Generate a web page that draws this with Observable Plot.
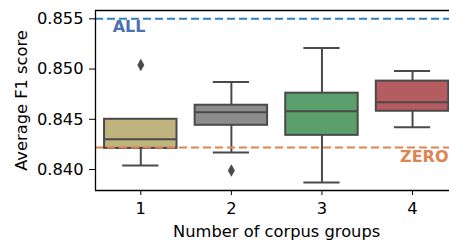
<!DOCTYPE html>
<html><head><meta charset="utf-8">
<script src="https://cdn.jsdelivr.net/npm/d3@7"></script>
<script src="https://cdn.jsdelivr.net/npm/@observablehq/plot@0.6"></script>
<style>body{margin:0;background:#fff}</style>
</head><body><div id="chart"></div>
<script>
// Box-plot statistics
const groups      = [1, 2, 3, 4];
const whiskerLow  = [0.8404, 0.8417, 0.8387, 0.8442];
const q1          = [0.8421, 0.8444, 0.8434, 0.8458];
const median      = [0.8430, 0.8457, 0.8458, 0.8467];
const q3          = [0.8450, 0.8464, 0.8476, 0.8488];
const whiskerHigh = [0.8450, 0.8487, 0.8521, 0.8498];
const boxColors   = ["#c0b47e", "#8c8c8c", "#5b9f6c", "#b55c60"];
const outlierGroup = [1, 2];
const outlierValue = [0.8504, 0.8399];
const refNames  = ["ALL", "ZERO"];
const refValues = [0.8550, 0.8422];
const refColors = ["#2f7fc1", "#dd8452"];
const refTextColors = ["#4c72b0", "#dd8452"];
const yTicks = [0.840, 0.845, 0.850, 0.855];

const boxes = groups.map((g, i) => ({g, lo: whiskerLow[i], q1: q1[i], med: median[i], q3: q3[i], hi: whiskerHigh[i], fill: boxColors[i]}));
const fliers = outlierGroup.map((g, i) => ({g, v: outlierValue[i]}));
const refs = refNames.map((n, i) => ({n, v: refValues[i], c: refColors[i], tc: refTextColors[i]}));

const edge = "#4a4a4a";
const yDom = [0.83791, 0.85583];
const xDom = [0.5, 4.408];

const thinDiamond = {
  draw(ctx, size) {
    const r = Math.sqrt(size / Math.PI);
    const h = r * 1.25, w = r * 0.7;
    ctx.moveTo(0, -h); ctx.lineTo(w, 0); ctx.lineTo(0, h); ctx.lineTo(-w, 0); ctx.closePath();
  }
};

const chart = Plot.plot({
  width: 449, height: 240,
  marginLeft: 95, marginTop: 10, marginBottom: 50, marginRight: 0,
  style: {fontFamily: "DejaVu Sans", fontSize: "16.3px", color: "#000", background: "#fff"},
  x: {domain: xDom},
  y: {domain: yDom},
  color: {type: "identity"},
  marks: [
    Plot.ruleX(boxes, {x: "g", y1: "lo", y2: "q1", stroke: edge, strokeWidth: 2}),
    Plot.ruleX(boxes, {x: "g", y1: "q3", y2: "hi", stroke: edge, strokeWidth: 2}),
    Plot.ruleY(boxes, {y: "lo", x1: d => d.g - 0.2, x2: d => d.g + 0.2, stroke: edge, strokeWidth: 2}),
    Plot.ruleY(boxes, {y: "hi", x1: d => d.g - 0.2, x2: d => d.g + 0.2, stroke: edge, strokeWidth: 2}),
    Plot.rect(boxes, {x1: d => d.g - 0.4, x2: d => d.g + 0.4, y1: "q1", y2: "q3", fill: "fill", stroke: edge, strokeWidth: 2}),
    Plot.ruleY(boxes, {y: "med", x1: d => d.g - 0.4, x2: d => d.g + 0.4, stroke: edge, strokeWidth: 2}),
    Plot.dot(fliers, {x: "g", y: "v", r: 5, symbol: thinDiamond, fill: edge, stroke: "none"}),
    Plot.ruleY(refs, {y: "v", stroke: "c", strokeWidth: 2, strokeDasharray: "8,4"}),
    Plot.text([refs[0]], {x: 0.69, y: 0.85424, text: "n", fill: "tc", textAnchor: "start", fontWeight: "bold", fontSize: 16}),
    Plot.text([refs[1]], {frameAnchor: "right", y: 0.8413, text: "n", fill: "tc", textAnchor: "end", fontWeight: "bold", fontSize: 16, dx: -1}),
    Plot.ruleX([xDom[0]], {stroke: "#000", strokeWidth: 1.3}),
    Plot.ruleY([yDom[0]], {stroke: "#000", strokeWidth: 1.3}),
    Plot.ruleY([yDom[1]], {stroke: "#000", strokeWidth: 1.3}),
    Plot.axisY({ticks: yTicks, tickFormat: d3.format(".3f"), tickSize: 6, tickPadding: 6, label: "Average F1 score", labelAnchor: "center", labelArrow: "none", labelOffset: 80}),
    Plot.axisX({ticks: groups, tickFormat: d => String(d), tickSize: 5, tickPadding: 7, label: null}),
    Plot.text(["Number of corpus groups"], {x: 2.5, frameAnchor: "bottom", dy: 41, lineAnchor: "middle", fontSize: 16.3})
  ]
});
document.getElementById("chart").appendChild(chart);
</script>
</body></html>
